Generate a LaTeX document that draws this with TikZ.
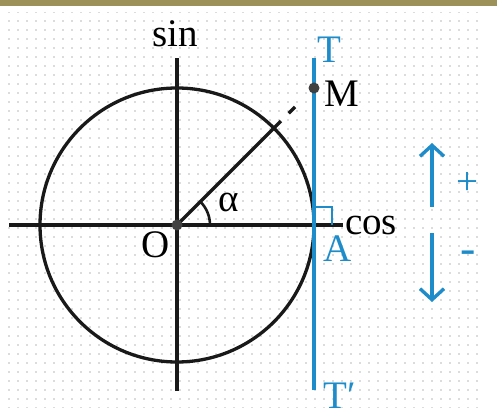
\documentclass[tikz,border=0pt]{standalone}
\usepackage{fontspec}
\setmainfont{Liberation Serif}
\usetikzlibrary{arrows.meta, calc, patterns.meta}
\definecolor{tanblue}{RGB}{30,140,200}
\definecolor{barolive}{RGB}{157,145,90}
\tikzset{
  axis/.style={draw=black!90, line width=3.3pt},
  tangent/.style={draw=tanblue, line width=4pt},
  lbl/.style={font=\fontsize{39}{41}\selectfont, inner sep=0pt, anchor=base},
  bluelbl/.style={lbl, text=tanblue},
  signarrow/.style={-{Straight Barb[length=11pt,width=24pt]}, draw=tanblue, line width=3.4pt},
  pt/.style={circle, fill=black!75, inner sep=0pt, minimum size=11pt},
}

\begin{document}
\begin{tikzpicture}[x=1pt, y=1pt]
  \useasboundingbox (0,0) rectangle (497,417);
  % Frame
  \fill[barolive] (0,411) rectangle (497,417);
  \path[pattern={Dots[radius=0.8pt, distance=9pt]}, pattern color=gray!55] (5,10) rectangle (480,404);

  % Points
  \coordinate (O) at (177,192);
  \coordinate (A) at (314,192);
  \coordinate (M) at (314,329);
  \coordinate (xl) at (9,192);
  \coordinate (xr) at (343,192);
  \coordinate (yb) at (177,26);
  \coordinate (yt) at (177,359);
  \coordinate (tb) at (314,27);
  \coordinate (tt) at (314,359);

  % Circle and axes
  \draw[axis] (O) circle[radius=137];
  \draw[axis] (xl) -- (xr);
  \draw[axis] (yb) -- (yt);
  \draw[axis, dash pattern=on 147pt off 11pt on 9pt off 40pt] (O) -- (M);
  \draw[axis, line width=2.6pt] ($(O)+(33,0)$) arc[start angle=0, end angle=45, radius=33];

  % Tangent axis
  \draw[tangent] (tb) -- (tt);
  \draw[draw=tanblue, line width=2pt] ($(A)+(0,18)$) -- ($(A)+(18,18)$) -- ($(A)+(18,0)$);

  \node[pt] (o) at (O) {};
  \node[pt] (m) at (M) {};

  % Labels
  \node[lbl] (sin) at (175,370) {sin};
  \node[lbl] (cos) at (371,182) {cos};
  \node[lbl] (olbl) at (156,159) {O};
  \node[lbl] (alpha) at (229,205) {α};
  \node[lbl] (mlbl) at (342,310) {M};
  \node[bluelbl] (alb) at (338,155) {A};
  \node[bluelbl] (tlb) at (329,354) {T};
  \node[bluelbl] (tplb) at (340,9) {T′};

  % Signs
  \coordinate (up0) at (432,210);
  \coordinate (up1) at (432,274);
  \coordinate (dn0) at (432,184);
  \coordinate (dn1) at (432,115);
  \draw[signarrow] (up0) -- (up1);
  \draw[signarrow] (dn0) -- (dn1);
  \node[bluelbl, anchor=center] (plus) at (467,234) {+};
  \node[bluelbl, anchor=center, font=\fontsize{46}{48}\selectfont] (minus) at (468,160) {-};
\end{tikzpicture}
\end{document}
